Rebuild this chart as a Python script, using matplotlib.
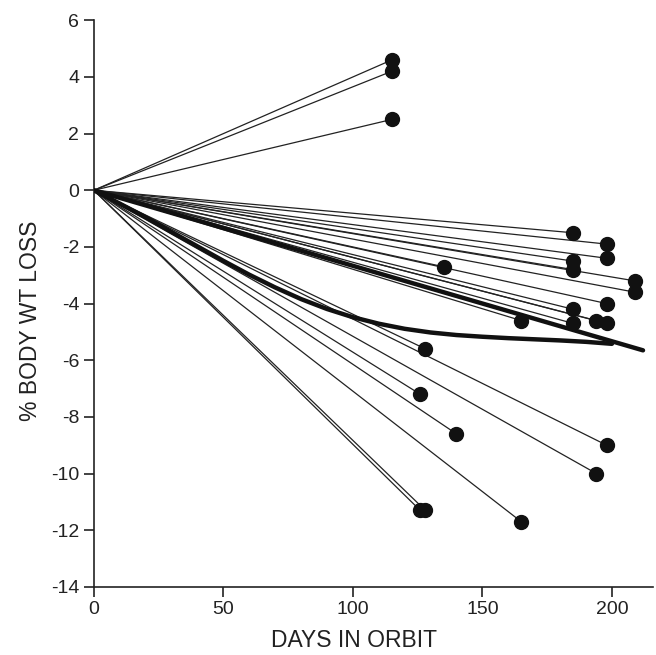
import numpy as np
import matplotlib.pyplot as plt

plt.rcParams['font.family'] = ['Liberation Sans', 'DejaVu Sans']
plt.rcParams['axes.unicode_minus'] = False

# individual crew members: days in orbit at landing, % body weight change
end_days = [115, 115, 115,
            185, 198, 198, 185, 185, 135, 209, 209, 198, 185, 185, 194, 198, 165,
            128, 126, 140, 198, 194, 126, 128, 165]
end_loss = [4.6, 4.2, 2.5,
            -1.5, -1.9, -2.4, -2.5, -2.8, -2.7, -3.2, -3.6, -4.0, -4.2, -4.7, -4.6, -4.7, -4.6,
            -5.6, -7.2, -8.6, -9.0, -10.0, -11.3, -11.3, -11.7]

# mean trend (straight thick line)
trend_days = [0, 212]
trend_loss = [0, -5.65]

# curved thick line
curve_days = [0, 10, 20, 30, 40, 50, 60, 70, 80, 90, 100, 110, 120, 130, 140,
              150, 160, 170, 180, 190, 200]
curve_loss = [0, -0.47, -0.95, -1.47, -1.98, -2.49, -2.98, -3.43, -3.84, -4.19, -4.48,
              -4.71, -4.89, -5.02, -5.11, -5.17, -5.22, -5.26, -5.3, -5.35, -5.42]

fig = plt.figure(figsize=(6.56, 6.55), dpi=100)
ax = fig.add_axes([0.143, 0.104, 0.853, 0.865])

for d, l in zip(end_days, end_loss):
    ax.plot([0, d], [0, l], color='#222222', lw=0.9, zorder=2)
ax.plot(end_days, end_loss, 'o', color='#111111', ms=10, zorder=4)

ax.plot(trend_days, trend_loss, color='#111111', lw=3.2, solid_capstyle='round', zorder=3)
ax.plot(curve_days, curve_loss, color='#111111', lw=3.2, solid_capstyle='round',
        solid_joinstyle='round', zorder=3)

ax.set_xlim(0, 216)
ax.set_ylim(-14, 6)
ax.set_xticks([0, 50, 100, 150, 200])
ax.set_yticks(np.arange(-14, 7, 2))
ax.spines['top'].set_visible(False)
ax.spines['right'].set_visible(False)
for s in ['left', 'bottom']:
    ax.spines[s].set_linewidth(1.2)
    ax.spines[s].set_color('#222222')
ax.tick_params(length=7, width=1.2, color='#222222', labelsize=14, labelcolor='#222222')
ax.set_xlabel('DAYS IN ORBIT', fontsize=16.5, color='#222222')
ax.set_ylabel('% BODY WT LOSS', fontsize=16.5, color='#222222')
ax.xaxis.set_label_coords(0.465, -0.075)
ax.yaxis.set_label_coords(-0.092, 0.47)

fig.savefig('out.png', dpi=100)
